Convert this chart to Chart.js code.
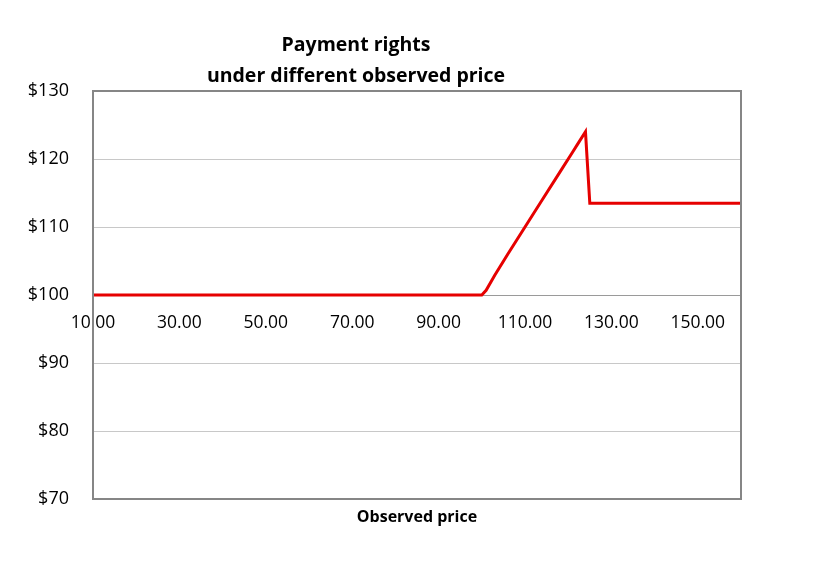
<!DOCTYPE html>
<html>
<head>
<meta charset="utf-8">
<script src="https://cdn.jsdelivr.net/npm/chart.js@4.4.1/dist/chart.umd.min.js"></script>
<style>
  html, body { margin: 0; padding: 0; background: #fff; }
  #wrap { width: 833px; height: 570px; position: relative; }
</style>
</head>
<body>
<div id="wrap"><canvas id="chart" width="833" height="570"></canvas></div>
<script>
// observed price vs payment
const prices   = [10, 100, 101, 103, 106, 110, 114, 118, 121, 122, 124, 125, 160];
const payments = [100, 100, 100.7, 102.9, 106, 110, 114, 118, 121, 122, 124, 113.5, 113.5];
const xTicks = [10, 30, 50, 70, 90, 110, 130, 150];
const yTicks = [70, 80, 90, 100, 110, 120, 130];
const titleLines = ['Payment rights', 'under different observed price'];
const xTitle = 'Observed price';

const FONT = "'Open Sans', 'Noto Sans', sans-serif";

const frame = {
  id: 'frame',
  afterDatasetsDraw(chart) {
    const { ctx, chartArea: a } = chart;
    ctx.save();
    ctx.strokeStyle = '#868686';
    ctx.lineWidth = 2;
    ctx.strokeRect(a.left, a.top, a.right - a.left, a.bottom - a.top);
    ctx.fillStyle = '#000';
    ctx.textAlign = 'center';
    ctx.textBaseline = 'middle';
    ctx.font = "bold 19.5px " + FONT;
    ctx.fillText(titleLines[0], 356, 45);
    ctx.fillText(titleLines[1], 356, 76);
    ctx.font = "bold 16px " + FONT;
    ctx.fillText(xTitle, (a.left + a.right) / 2, 517);
    ctx.restore();
  }
};

new Chart(document.getElementById('chart'), {
  type: 'line',
  data: {
    datasets: [{
      data: prices.map((p, i) => ({ x: p, y: payments[i] })),
      borderColor: '#e60000',
      borderWidth: 3,
      pointRadius: 0,
      tension: 0,
      fill: false
    }]
  },
  options: {
    responsive: false,
    animation: false,
    layout: { padding: { top: 91, right: 92, bottom: 71, left: 0 } },
    plugins: { legend: { display: false }, tooltip: { enabled: false } },
    scales: {
      x: {
        type: 'linear',
        min: 10, max: 160,
        position: { y: 100 },
        afterBuildTicks: s => { s.ticks = xTicks.map(v => ({ value: v })); },
        grid: { display: false, drawTicks: false },
        border: { display: true, color: '#9a9a9a', width: 1 },
        ticks: {
          color: '#000', font: { family: FONT, size: 17.5 }, padding: 18,
          maxRotation: 0, autoSkip: false,
          callback: v => v.toFixed(2)
        }
      },
      y: {
        min: 70, max: 130,
        afterBuildTicks: s => { s.ticks = yTicks.map(v => ({ value: v })); },
        grid: { color: '#c8c8c8', lineWidth: 1, drawTicks: false },
        border: { display: false },
        ticks: {
          color: '#000', font: { family: FONT, size: 18 }, padding: 24,
          callback: v => '$' + v
        },
        afterFit: s => { s.width = 93; }
      }
    }
  },
  plugins: [frame]
});
</script>
</body>
</html>
